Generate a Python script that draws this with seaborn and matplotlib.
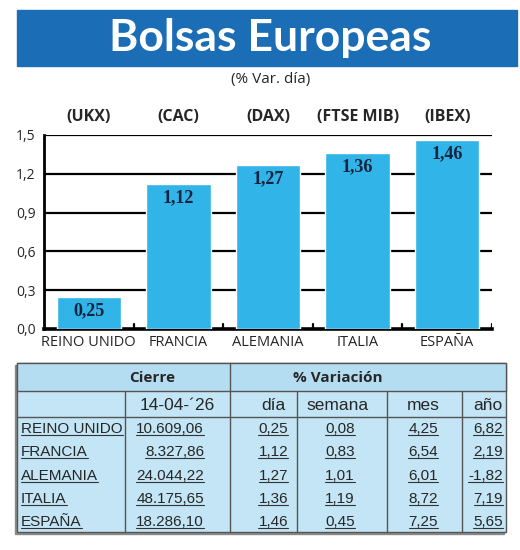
import numpy as np
import pandas as pd
import matplotlib
matplotlib.use("Agg")
import matplotlib.pyplot as plt
from matplotlib.patches import Rectangle
import seaborn as sns

# datos
paises = ["REINO UNIDO", "FRANCIA", "ALEMANIA", "ITALIA", "ESPAÑA"]
indices = ["(UKX)", "(CAC)", "(DAX)", "(FTSE MIB)", "(IBEX)"]
var_dia = [0.25, 1.12, 1.27, 1.36, 1.46]
cierre = [10609.06, 8327.86, 24044.22, 48175.65, 18286.10]
var_semana = [0.08, 0.83, 1.01, 1.19, 0.45]
var_mes = [4.25, 6.54, 6.01, 8.72, 7.25]
var_anio = [6.82, 2.19, -1.82, 7.19, 5.65]
fecha = "14-04-´26"
yticks = [0.0, 0.3, 0.6, 0.9, 1.2, 1.5]

AZUL_BARRA = "#31b4e7"
AZUL_TITULO = "#1b6db5"
AZUL_TABLA = "#c3e5f5"
AZUL_CAB = "#b5ddf1"


def es_num(v, dec=2):
    s = f"{v:,.{dec}f}"
    return s.replace(",", "X").replace(".", ",").replace("X", ".")


sns.set_style("white")
plt.rcParams["font.family"] = ["Open Sans", "DejaVu Sans"]

fig = plt.figure(figsize=(5.2, 5.5), dpi=100)

# capa de fondo en pixeles
bg = fig.add_axes([0, 0, 1, 1])
bg.set_xlim(0, 520)
bg.set_ylim(550, 0)
bg.axis("off")

# titulo
bg.add_patch(Rectangle((17, 10), 500, 56, color=AZUL_TITULO, zorder=1))
bg.text(270, 38, "Bolsas Europeas", color="white", fontsize=32, fontweight="bold",
        family=["Lato", "DejaVu Sans"], ha="center", va="center", zorder=2)
bg.text(271, 80, "(% Var. día)", fontsize=11, ha="center", va="center")

# grafico de barras
ax = fig.add_axes([44 / 520, 1 - 329 / 550, 448 / 520, 194 / 550])
ax.set_zorder(2)
df = pd.DataFrame({"pais": paises, "var": var_dia})
sns.barplot(data=df, x="pais", y="var", color=AZUL_BARRA, saturation=1,
            width=0.72, ax=ax, zorder=3)
ax.set_ylim(0, 1.5)
ax.set_xlim(-0.5, 4.5)
ax.set_yticks(yticks)
ax.set_yticklabels([es_num(v, 1) for v in yticks], fontsize=10)
ax.set_xlabel("")
ax.set_ylabel("")
ax.tick_params(axis="x", length=0, labelsize=10.5, pad=4)
ax.tick_params(axis="y", length=0, pad=6)
for v in yticks[1:]:
    ax.axhline(v, color="black", lw=1.6, zorder=1)
ax.set_xticks(np.arange(len(paises)))
ax.set_xticklabels(paises)
for b in np.arange(0.5, len(paises), 1.0):
    ax.plot([b, b], [0, 0.04], color="black", lw=1.6, zorder=2)
for s in ["top", "right"]:
    ax.spines[s].set_visible(False)
ax.spines["left"].set_linewidth(2)
ax.spines["bottom"].set_linewidth(2.6)
ax.spines["left"].set_color("black")
ax.spines["bottom"].set_color("black")

for i, (v, idx) in enumerate(zip(var_dia, indices)):
    ax.annotate(es_num(v), (i, v), xytext=(0, -4), textcoords="offset points",
                ha="center", va="top", fontsize=13, fontweight="bold",
                family=["Liberation Serif", "DejaVu Serif"], color="#16233f", zorder=5)
    ax.text(i, 1.58, idx, ha="center", va="bottom", fontsize=11.5,
            fontweight="bold", transform=ax.transData, clip_on=False)

# tabla
x0, x1 = 17, 506
y_top, y_h1, y_h2, y_bot = 363, 391, 417, 532
bg.add_patch(Rectangle((x0 - 2, y_top + 2), x1 - x0, y_bot - y_top, color="#8a8a8a", zorder=1))
bg.add_patch(Rectangle((x0, y_top), x1 - x0, y_bot - y_top, facecolor=AZUL_TABLA,
                       edgecolor="#555555", lw=1.0, zorder=2))
bg.add_patch(Rectangle((x0, y_top), x1 - x0, y_h1 - y_top, facecolor=AZUL_CAB,
                       edgecolor="#555555", lw=1.0, zorder=2))
bg.plot([x0, x1], [y_h2, y_h2], color="#555555", lw=1, zorder=3)
bg.plot([230, 230], [y_top, y_bot], color="#555555", lw=1, zorder=3)
for xs in [125, 297, 387, 462]:
    bg.plot([xs, xs], [y_h1, y_bot], color="#555555", lw=1, zorder=3)

fam_t = ["Liberation Sans", "DejaVu Sans"]
bg.text(152, 378, "Cierre", fontsize=11, fontweight="bold", ha="center", va="center", zorder=4)
bg.text(338, 378, "% Variación", fontsize=11, fontweight="bold", ha="center", va="center", zorder=4)
cab2 = [(177, fecha), (273, "día"), (338, "semana"), (423, "mes"), (488, "año")]
for xc, t in cab2:
    bg.text(xc, 405, t, fontsize=12.5, family=fam_t, ha="center", va="center", zorder=4)

filas_y = [429, 452, 476, 499, 522]
subrayar = []
for i, yc in enumerate(filas_y):
    celdas = [(21, "left", paises[i]),
              (204, "right", es_num(cierre[i])),
              (288, "right", es_num(var_dia[i])),
              (355, "right", es_num(var_semana[i])),
              (438, "right", es_num(var_mes[i])),
              (503, "right", es_num(var_anio[i]))]
    for xc, al, t in celdas:
        subrayar.append(bg.text(xc, yc, t, fontsize=11, family=fam_t, ha=al,
                                va="center", zorder=4))

fig.canvas.draw()
inv = bg.transData.inverted()
for t in subrayar:
    bb = t.get_window_extent()
    (xa, ya), (xb, yb) = inv.transform([[bb.x0, bb.y0], [bb.x1, bb.y0]])
    bg.plot([xa, xb], [ya - 1, yb - 1], color="#333333", lw=0.8, zorder=4)

plt.savefig("out.png", dpi=100)
